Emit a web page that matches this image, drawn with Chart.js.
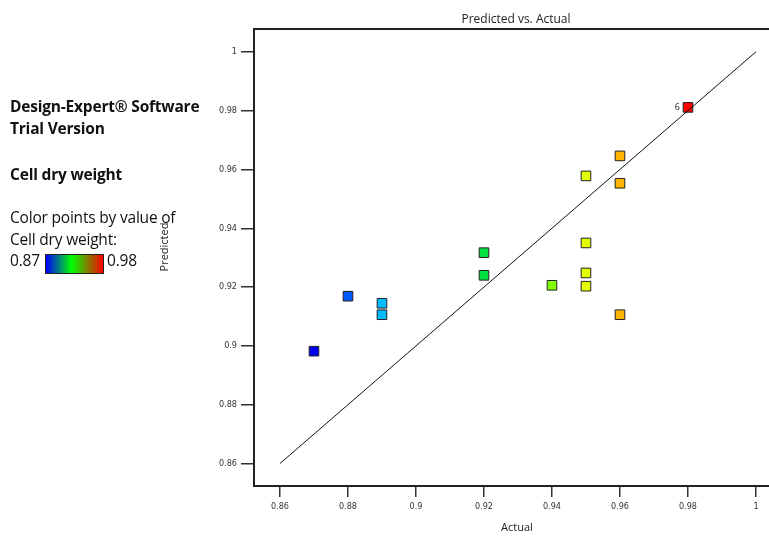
<!DOCTYPE html>
<html>
<head>
<meta charset="utf-8">
<script src="https://cdn.jsdelivr.net/npm/chart.js@4.4.0/dist/chart.umd.min.js"></script>
<style>
  html, body { margin: 0; padding: 0; background: #fff; overflow: hidden; }
  #wrap { position: relative; width: 769px; height: 543px; }
  #c { position: absolute; left: 0; top: 0; }
  .side { position: absolute; left: 10px; font-family: 'Open Sans', sans-serif; color: #111; white-space: nowrap; }
  .b { font-weight: bold; font-size: 15.5px; letter-spacing: -0.2px; }
  .n { font-size: 15.5px; letter-spacing: -0.2px; }
  #grad { position: absolute; left: 45px; top: 254px; width: 57px; height: 18px; border: 1px solid #222;
          background: linear-gradient(to right, #0000ff, #00ff00 45%, #ff0000); }
</style>
</head>
<body>
<div id="wrap">
  <canvas id="c" width="769" height="543"></canvas>
  <div class="side b" style="top:95px">Design-Expert® Software</div>
  <div class="side b" style="top:117px">Trial Version</div>
  <div class="side b" style="top:163px">Cell dry weight</div>
  <div class="side n" style="top:206px">Color points by value of</div>
  <div class="side n" style="top:228px">Cell dry weight:</div>
  <div class="side n" style="top:249px">0.87</div>
  <div id="grad"></div>
  <div class="side n" style="top:249px;left:107px">0.98</div>
</div>
<script>
var actual    = [0.87, 0.88, 0.89, 0.89, 0.92, 0.92, 0.94, 0.95, 0.95, 0.95, 0.95, 0.96, 0.96, 0.96, 0.98];
var predicted = [0.8982, 0.9169, 0.9145, 0.9106, 0.9317, 0.9240, 0.9206, 0.9578, 0.9350, 0.9248, 0.9203, 0.9646, 0.9553, 0.9106, 0.9811];
var runLabels = ['', '', '', '', '', '', '', '', '', '', '', '', '', '', '6'];

var colorValues = [0.87, 0.88, 0.89, 0.92, 0.94, 0.95, 0.96, 0.98];
var colorHex    = ['#0000f0', '#0058ff', '#00bcff', '#00e040', '#80ff00', '#e4ff00', '#ffb400', '#ff0000'];

var tickValues = [0.86, 0.88, 0.9, 0.92, 0.94, 0.96, 0.98, 1];
var tickLabels = ['0.86', '0.88', '0.9', '0.92', '0.94', '0.96', '0.98', '1'];

var axisMin = 0.85236, xMax = 1.00383, yMax = 1.00775;

var pts = [];
var cols = [];
for (var i in actual) {
  pts.push({x: actual[i], y: predicted[i]});
  cols.push(colorHex[colorValues.indexOf(actual[i])]);
}

var tickFont = { family: "'Liberation Sans Narrow', 'DejaVu Sans Condensed', 'Open Sans', sans-serif", size: 9 };

function fixTicks(scale) {
  scale.ticks = tickValues.map(function(v){ return {value: v}; });
}
function tickCb(v) {
  var k = tickValues.indexOf(v);
  return k >= 0 ? tickLabels[k] : '';
}
function noPad(s) {
  s.paddingLeft = 0; s.paddingRight = 0; s.paddingTop = 0; s.paddingBottom = 0;
}

var extras = {
  id: 'extras',
  afterDraw: function(chart) {
    var ctx = chart.ctx, a = chart.chartArea;
    var xs = chart.scales.x, ys = chart.scales.y;
    ctx.save();
    ctx.strokeStyle = '#222';
    ctx.lineWidth = 2;
    ctx.beginPath();
    ctx.moveTo(a.left, a.top);
    ctx.lineTo(a.right, a.top);
    ctx.stroke();

    ctx.fillStyle = '#222';
    ctx.font = "12px 'Open Sans', sans-serif";
    ctx.textAlign = 'center';
    ctx.textBaseline = 'alphabetic';
    ctx.fillText('Predicted vs. Actual', 516, 23);
    ctx.font = "11px 'Open Sans', sans-serif";
    ctx.fillText('Actual', 517, 531);

    ctx.save();
    ctx.translate(168, 247);
    ctx.rotate(-Math.PI / 2);
    ctx.fillText('Predicted', 0, 0);
    ctx.restore();

    ctx.font = "9px 'Open Sans', sans-serif";
    ctx.textAlign = 'right';
    ctx.textBaseline = 'middle';
    for (var i in runLabels) {
      if (runLabels[i]) {
        ctx.fillText(runLabels[i], xs.getPixelForValue(actual[i]) - 8, ys.getPixelForValue(predicted[i]));
      }
    }
    ctx.restore();
  }
};

new Chart(document.getElementById('c'), {
  type: 'scatter',
  data: {
    datasets: [
      {
        type: 'line',
        data: [{x: 0.86, y: 0.86}, {x: 1, y: 1}],
        borderColor: '#111',
        borderWidth: 1,
        pointRadius: 0,
        fill: false
      },
      {
        data: pts,
        pointStyle: 'rect',
        pointRadius: 6.8,
        backgroundColor: cols,
        borderColor: '#222',
        borderWidth: 1
      }
    ]
  },
  options: {
    responsive: false,
    animation: false,
    events: [],
    layout: { autoPadding: false, padding: { left: 0, top: 29, right: 0, bottom: 0 } },
    plugins: { legend: { display: false }, title: { display: false }, tooltip: { enabled: false } },
    scales: {
      x: {
        type: 'linear',
        min: axisMin,
        max: xMax,
        afterBuildTicks: fixTicks,
        afterFit: function(s) { s.height = 57; noPad(s); },
        border: { display: true, color: '#222', width: 2 },
        grid: { drawOnChartArea: false, drawTicks: true, tickLength: 11, color: '#333', lineWidth: 1.5 },
        ticks: { callback: tickCb, autoSkip: false, maxRotation: 0, padding: 4, color: '#333', font: tickFont }
      },
      y: {
        type: 'linear',
        min: axisMin,
        max: yMax,
        afterBuildTicks: fixTicks,
        afterFit: function(s) { s.width = 254; noPad(s); },
        border: { display: true, color: '#222', width: 2 },
        grid: { drawOnChartArea: false, drawTicks: true, tickLength: 13, color: '#333', lineWidth: 1.5 },
        ticks: { callback: tickCb, autoSkip: false, padding: 4, color: '#333', font: tickFont }
      }
    }
  },
  plugins: [extras]
});
</script>
</body>
</html>
